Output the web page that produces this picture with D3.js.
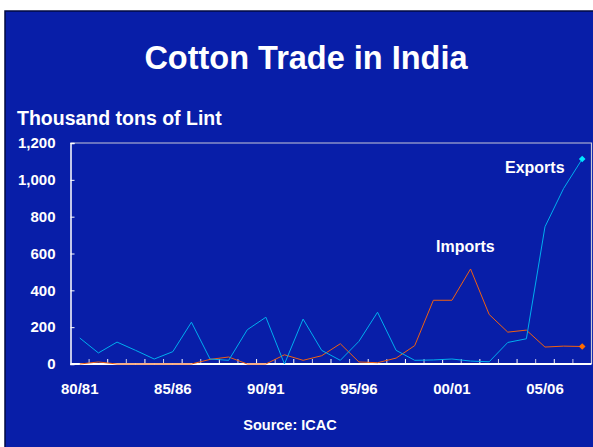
<!DOCTYPE html>
<html>
<head>
<meta charset="utf-8">
<script src="https://cdn.jsdelivr.net/npm/d3@7"></script>
<style>
  html, body { margin: 0; padding: 0; background: #ffffff; }
  svg { display: block; }
  text { font-family: Arial, "Liberation Sans", Helvetica, sans-serif; font-weight: bold; fill: #ffffff; }
</style>
</head>
<body>
<svg id="chart" width="593" height="447"></svg>
<script>
// ---- data ----
const categories = ["80/81","81/82","82/83","83/84","84/85","85/86","86/87","87/88","88/89","89/90",
  "90/91","91/92","92/93","93/94","94/95","95/96","96/97","97/98","98/99","99/00",
  "00/01","01/02","02/03","03/04","04/05","05/06","06/07","07/08"];
const exportsValues = [141, 60, 119, 74, 27, 67, 227, 27, 20, 186,
  254, 0, 244, 74, 20, 123, 281, 74, 20, 22,
  27, 16, 12, 117, 137, 745, 953, 1113];
const importsValues = [0, 11, 0, 0, 0, 0, 0, 25, 38, 0,
  0, 50, 20, 45, 110, 11, 7, 32, 100, 346,
  346, 516, 269, 173, 184, 92, 97, 95];
const xTickLabels = ["80/81","85/86","90/91","95/96","00/01","05/06"];
const yTickValues = [0, 200, 400, 600, 800, 1000, 1200];

(function () {
const svg = d3.select("#chart");

// slide background
svg.append("rect").attr("x", 5).attr("y", 11).attr("width", 600).attr("height", 450)
  .attr("fill", "#081EA8").attr("stroke", "#000a40").attr("stroke-width", 1.5);

// title
svg.append("text").attr("x", 306).attr("y", 69).attr("text-anchor", "middle")
  .style("font-size", "32.5px").text("Cotton Trade in India");
svg.append("text").attr("x", 17).attr("y", 125)
  .style("font-size", "19.5px").text("Thousand tons of Lint");

const pLeft = 70.5, pRight = 591.5, pTop = 143, pBottom = 364;
const x = d3.scaleBand().domain(categories).range([pLeft, pRight]).padding(0);
const y = d3.scaleLinear().domain([0, 1200]).range([pBottom, pTop]);
const cx = c => x(c) + x.bandwidth() / 2;

// frame top/right
svg.append("path")
  .attr("d", `M${pLeft},${pTop}H${pRight}V${pBottom}`)
  .attr("fill", "none").attr("stroke", "#c8c8d8").attr("stroke-width", 1.2);

// y axis
const yAxis = svg.append("g").attr("transform", `translate(${pLeft},0)`)
  .call(d3.axisRight(y).tickValues(yTickValues).tickSize(4).tickFormat(d3.format(",")));
yAxis.select(".domain").attr("stroke", "#ffffff").attr("stroke-width", 1.5);
yAxis.selectAll(".tick line").attr("stroke", "#ffffff");
yAxis.selectAll(".tick text").attr("x", -15).attr("text-anchor", "end")
  .attr("fill", "#ffffff").style("font-size", "15px").style("font-family", "Arial, 'Liberation Sans', sans-serif").style("font-weight", "bold");

// x axis: ticks at category boundaries pointing up
const boundaries = categories.slice(1);
const xAxisG = svg.append("g");
xAxisG.selectAll("line.tk").data(boundaries).enter().append("line")
  .attr("x1", d => x(d)).attr("x2", d => x(d))
  .attr("y1", pBottom).attr("y2", pBottom - 5)
  .attr("stroke", (d, i) => i % 2 ? "#ffffff" : "#c8c8e8").attr("stroke-width", 1);
xAxisG.append("line").attr("x1", pLeft).attr("x2", pRight).attr("y1", pBottom).attr("y2", pBottom)
  .attr("stroke", "#ffffff").attr("stroke-width", 2);
xAxisG.selectAll("text.lbl").data(xTickLabels).enter().append("text")
  .attr("x", d => cx(d)).attr("y", 394).attr("text-anchor", "middle")
  .style("font-size", "15px").text(d => d);

// lines
const line = d3.line().x((d, i) => cx(categories[i])).y(d => y(d));
svg.append("path").datum(importsValues).attr("d", line)
  .attr("fill", "none").attr("stroke", "#F06010").attr("stroke-width", 1);
svg.append("path").datum(exportsValues).attr("d", line)
  .attr("fill", "none").attr("stroke", "#00AEEF").attr("stroke-width", 1);

// end markers (square rotated 45deg)
const last = categories.length - 1;
const diamond = d3.symbol().type(d3.symbolSquare).size(22);
svg.append("path").attr("d", diamond)
  .attr("transform", `translate(${cx(categories[last])},${y(importsValues[last])}) rotate(45)`)
  .attr("fill", "#FF6A00");
svg.append("path").attr("d", diamond)
  .attr("transform", `translate(${cx(categories[last])},${y(exportsValues[last])}) rotate(45)`)
  .attr("fill", "#00E5FF");

// annotations
svg.append("text").attr("x", 505).attr("y", 173).style("font-size", "16px").text("Exports");
svg.append("text").attr("x", 436).attr("y", 252).style("font-size", "16px").text("Imports");

// source
svg.append("text").attr("x", 290).attr("y", 430).attr("text-anchor", "middle")
  .style("font-size", "14.5px").text("Source: ICAC");
})();
</script>
</body>
</html>
